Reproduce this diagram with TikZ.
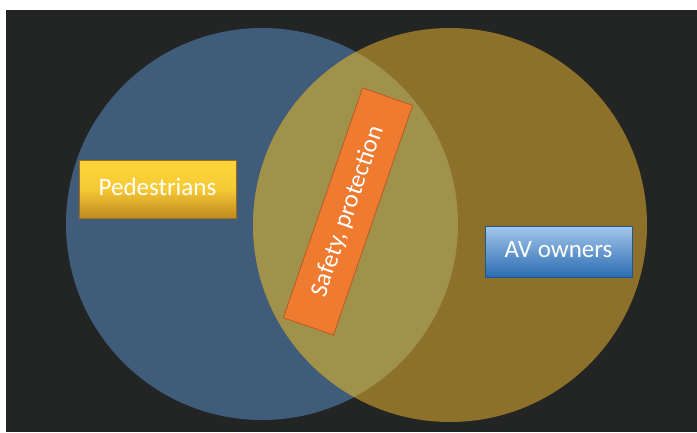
\documentclass[tikz,border=0pt]{standalone}
\usepackage{fontspec}
\setmainfont{Carlito}
\definecolor{bgdark}{HTML}{232524}
\definecolor{blueC}{HTML}{3F5D7A}
\definecolor{goldC}{HTML}{8D7029}
\definecolor{olive}{HTML}{A0924A}
\definecolor{yelTop}{HTML}{FFD53A}
\definecolor{yelBot}{HTML}{C08A1E}
\definecolor{bluTop}{HTML}{A3C7EC}
\definecolor{bluBot}{HTML}{2B6CB0}
\definecolor{orgFill}{HTML}{EE7B30}
\definecolor{orgEdge}{HTML}{B85A25}
\tikzset{
  label box/.style={text=white, font=\fontsize{25}{28}\selectfont, inner sep=0pt, anchor=center},
  circ/.style={draw=none}
}
\begin{document}
\begin{tikzpicture}[x=1pt,y=-1pt]
\fill[white] (0,0) rectangle (697,432);
\fill[bgdark] (6,10) rectangle (697,432);
\useasboundingbox (0,0) rectangle (697,432);
% circles
\fill[blueC] (262,224) circle (196);
\fill[goldC] (450,225) circle (197);
\begin{scope}
  \clip (262,224) circle (196);
  \fill[olive] (450,225) circle (197);
\end{scope}
% Pedestrians
\shade[top color=yelTop, bottom color=yelBot, middle color=yelTop!85!yelBot, draw=yelBot!80!black, line width=0.6pt]
  (79,160) rectangle (236,218);
\node[label box] (ped) at (157.5,187) {Pedestrians};
% AV owners
\shade[top color=bluTop, bottom color=bluBot, draw=bluBot!80!black, line width=0.6pt]
  (485,226) rectangle (632,277);
\node[label box] (av) at (558.5,250) {AV owners};
% Safety, protection
\node[draw=orgEdge, fill=orgFill, line width=0.8pt, rotate=71, minimum width=243pt, minimum height=53pt, inner sep=0pt, text=white, font=\fontsize{25}{28}\selectfont] (safe) at (348,211.5) {Safety, protection};
\end{tikzpicture}
\end{document}
